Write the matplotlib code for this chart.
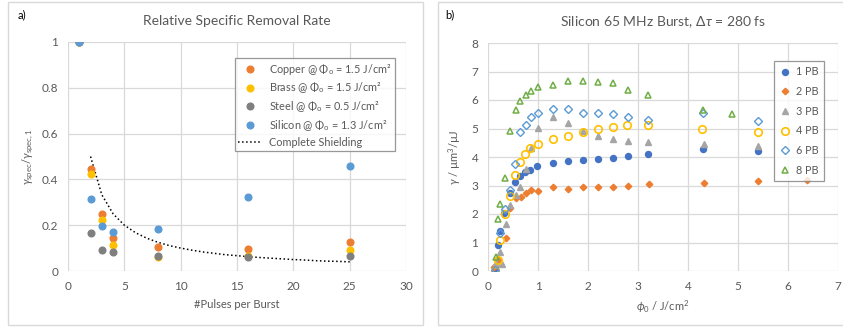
import matplotlib.pyplot as plt
from matplotlib.patches import Rectangle
from matplotlib.ticker import FuncFormatter

plt.rcParams['font.family'] = ['Lato', 'DejaVu Sans']
plt.rcParams['mathtext.fontset'] = 'custom'
plt.rcParams['mathtext.rm'] = 'Lato'
plt.rcParams['mathtext.it'] = 'Lato:italic'
plt.rcParams['mathtext.bf'] = 'Lato:bold'

TXT = '#595959'
GRID = '#D9D9D9'

# ---- panel a data ----
pulses = [1, 2, 3, 4, 8, 16, 25]
copper = [1.0, 0.445, 0.249, 0.143, 0.105, 0.098, 0.128]
brass = [1.0, 0.424, 0.222, 0.115, 0.060, 0.066, 0.092]
steel = [1.0, 0.168, 0.090, 0.082, 0.064, 0.060, 0.067]
silicon = [1.0, 0.316, 0.197, 0.169, 0.184, 0.324, 0.458]
shield_n = [2, 3, 4, 5, 6, 7, 8, 9, 10, 11, 12, 13, 14, 15, 16, 17, 18, 19, 20, 21, 22, 23, 24, 25]
shield_y = [0.5, 0.333, 0.25, 0.2, 0.167, 0.143, 0.125, 0.111, 0.1, 0.091, 0.083, 0.077,
            0.071, 0.067, 0.0625, 0.059, 0.056, 0.053, 0.05, 0.048, 0.045, 0.043, 0.042, 0.04]

# ---- panel b data ----
f1 = [0.13, 0.19, 0.24, 0.32, 0.43, 0.53, 0.63, 0.73, 0.84, 0.97, 1.29, 1.59, 1.89, 2.19, 2.49, 2.79, 3.19, 4.29, 5.39]
pb1 = [0.12, 0.91, 1.39, 2.05, 2.73, 3.13, 3.34, 3.47, 3.54, 3.68, 3.78, 3.86, 3.90, 3.92, 3.95, 4.03, 4.11, 4.27, 4.22]
f2 = [0.12, 0.2, 0.35, 0.44, 0.56, 0.65, 0.75, 0.85, 1.0, 1.29, 1.6, 1.9, 2.2, 2.49, 2.8, 3.21, 4.31, 5.39, 6.37]
pb2 = [0.15, 0.39, 1.17, 2.2, 2.56, 2.6, 2.72, 2.83, 2.82, 2.93, 2.88, 2.93, 2.96, 2.96, 2.98, 3.06, 3.10, 3.16, 3.2]
f3 = [0.16, 0.27, 0.24, 0.35, 0.44, 0.55, 0.64, 0.75, 0.85, 1.0, 1.3, 1.6, 1.89, 2.19, 2.49, 2.79, 3.19, 4.31, 5.39]
pb3 = [0.27, 0.23, 0.68, 1.65, 2.33, 2.67, 2.96, 3.57, 4.32, 5.02, 5.41, 5.2, 4.9, 4.74, 4.64, 4.55, 4.53, 4.46, 4.38]
f4 = [0.14, 0.19, 0.23, 0.34, 0.44, 0.54, 0.63, 0.74, 0.84, 0.99, 1.29, 1.59, 1.89, 2.19, 2.49, 2.78, 3.19, 4.28, 5.4]
pb4 = [0.01, 0.39, 1.09, 2.0, 2.63, 3.38, 3.84, 4.11, 4.31, 4.47, 4.64, 4.72, 4.86, 5.0, 5.06, 5.13, 5.13, 5.0, 4.86]
f6 = [0.13, 0.24, 0.33, 0.44, 0.54, 0.63, 0.75, 0.85, 0.99, 1.3, 1.59, 1.89, 2.19, 2.49, 2.8, 3.2, 4.29, 5.39]
pb6 = [0.03, 1.35, 2.17, 2.85, 3.75, 4.86, 5.13, 5.42, 5.56, 5.68, 5.7, 5.56, 5.56, 5.5, 5.39, 5.31, 5.56, 5.26]
f8 = [0.15, 0.19, 0.24, 0.34, 0.44, 0.55, 0.64, 0.75, 0.85, 0.99, 1.29, 1.59, 1.89, 2.19, 2.49, 2.8, 3.19, 4.3, 4.88]
pb8 = [0.48, 1.82, 2.35, 3.26, 4.92, 5.65, 5.98, 6.18, 6.3, 6.45, 6.53, 6.65, 6.65, 6.62, 6.59, 6.35, 6.17, 5.66, 5.51]

fig = plt.figure(figsize=(8.43, 3.29), dpi=100)
W, H = 843, 329


def px_axes(x0, y0, x1, y1):
    return fig.add_axes([x0 / W, 1 - y1 / H, (x1 - x0) / W, (y1 - y0) / H])


# panel frames
fig.patches.append(Rectangle((8 / W, 1 - 325 / H), (423 - 8) / W, (323) / H,
                             transform=fig.transFigure, fill=False, ec=GRID, lw=1))
fig.patches.append(Rectangle((438 / W, 1 - 325 / H), (860 - 438) / W, (323) / H,
                             transform=fig.transFigure, fill=False, ec=GRID, lw=1))


def style(ax):
    for s in ax.spines.values():
        s.set_visible(False)
    ax.grid(True, color=GRID, lw=0.9)
    ax.set_axisbelow(True)
    ax.tick_params(length=0, colors=TXT, labelsize=8.5, pad=7)


# ---- panel a ----
ax = px_axes(68, 42, 406, 271)
style(ax)
ax.plot(pulses, copper, 'o', color='#ED7D31', ms=4.8, label=r'Copper @ $\Phi_\mathrm{o}$ = 1.5 J/cm²', zorder=3)
ax.plot(pulses, brass, 'o', color='#FFC000', ms=4.8, label=r'Brass @ $\Phi_\mathrm{o}$ = 1.5 J/cm²', zorder=3)
ax.plot(pulses, steel, 'o', color='#7F7F7F', ms=4.8, label=r'Steel @ $\Phi_\mathrm{o}$ = 0.5 J/cm²', zorder=3)
ax.plot(pulses, silicon, 'o', color='#5B9BD5', ms=4.8, label=r'Silicon @ $\Phi_\mathrm{o}$ = 1.3 J/cm²', zorder=3)
ax.plot(shield_n, shield_y, ':', color='black', lw=1.1, label='Complete Shielding', zorder=2)
ax.set_xlim(0, 30)
ax.set_ylim(0, 1)
ax.set_xticks(range(0, 31, 5))
ax.set_yticks([0, 0.2, 0.4, 0.6, 0.8, 1.0])
ax.yaxis.set_major_formatter(FuncFormatter(lambda v, p: f'{v:g}'))
ax.set_title('Relative Specific Removal Rate', color=TXT, fontsize=10, pad=12)
ax.set_xlabel('#Pulses per Burst', color=TXT, fontsize=8, labelpad=5)
ax.set_ylabel(r'$\gamma_\mathrm{spec}/\gamma_\mathrm{spec,1}$', color=TXT, fontsize=8, labelpad=4)
leg = ax.legend(loc='upper left', bbox_to_anchor=(0.477, 0.955), fontsize=7.8, frameon=True,
                fancybox=False, edgecolor='#7F7F7F', labelcolor=TXT, handlelength=2.2,
                borderpad=0.35, labelspacing=0.36, handletextpad=0.6)
leg.get_frame().set_linewidth(0.9)

# ---- panel b ----
bx = px_axes(488, 43, 838, 271)
style(bx)
bx.plot(f1, pb1, 'o', color='#4472C4', ms=4.3, label='1 PB', zorder=3)
bx.plot(f2, pb2, 'D', color='#ED7D31', ms=3.3, label='2 PB', zorder=3)
bx.plot(f3, pb3, '^', color='#A5A5A5', ms=4.5, label='3 PB', zorder=3)
bx.plot(f4, pb4, 'o', mfc='none', mec='#FFC000', mew=1.2, ms=5.4, label='4 PB', zorder=3)
bx.plot(f6, pb6, 'D', mfc='none', mec='#5B9BD5', mew=1.0, ms=3.6, label='6 PB', zorder=3)
bx.plot(f8, pb8, '^', mfc='none', mec='#70AD47', mew=1.1, ms=4.8, label='8 PB', zorder=3)
bx.set_xlim(0, 7)
bx.set_ylim(0, 8)
bx.set_xticks(range(0, 8))
bx.set_yticks(range(0, 9))
bx.set_title(r'Silicon 65 MHz Burst, $\Delta\tau$ = 280 fs', color=TXT, fontsize=10, pad=12)
bx.set_xlabel(r'$\phi_0$ / J/cm$^2$', color=TXT, fontsize=8, labelpad=5)
bx.set_ylabel(r'$\gamma$ / µm$^3$/µJ', color=TXT, fontsize=8, labelpad=6)
leg2 = bx.legend(loc='upper left', bbox_to_anchor=(0.803, 0.945), fontsize=7.8, frameon=True,
                 fancybox=False, edgecolor='#7F7F7F', labelcolor=TXT, handlelength=1.0,
                 borderpad=0.5, labelspacing=0.8, handletextpad=0.5)
leg2.get_frame().set_linewidth(0.9)

fig.text(18 / W, 1 - 15 / H, 'a)', fontsize=8, color='black', va='center')
fig.text(445 / W, 1 - 15 / H, 'b)', fontsize=8, color='black', va='center')

fig.savefig('out.png', dpi=100)
